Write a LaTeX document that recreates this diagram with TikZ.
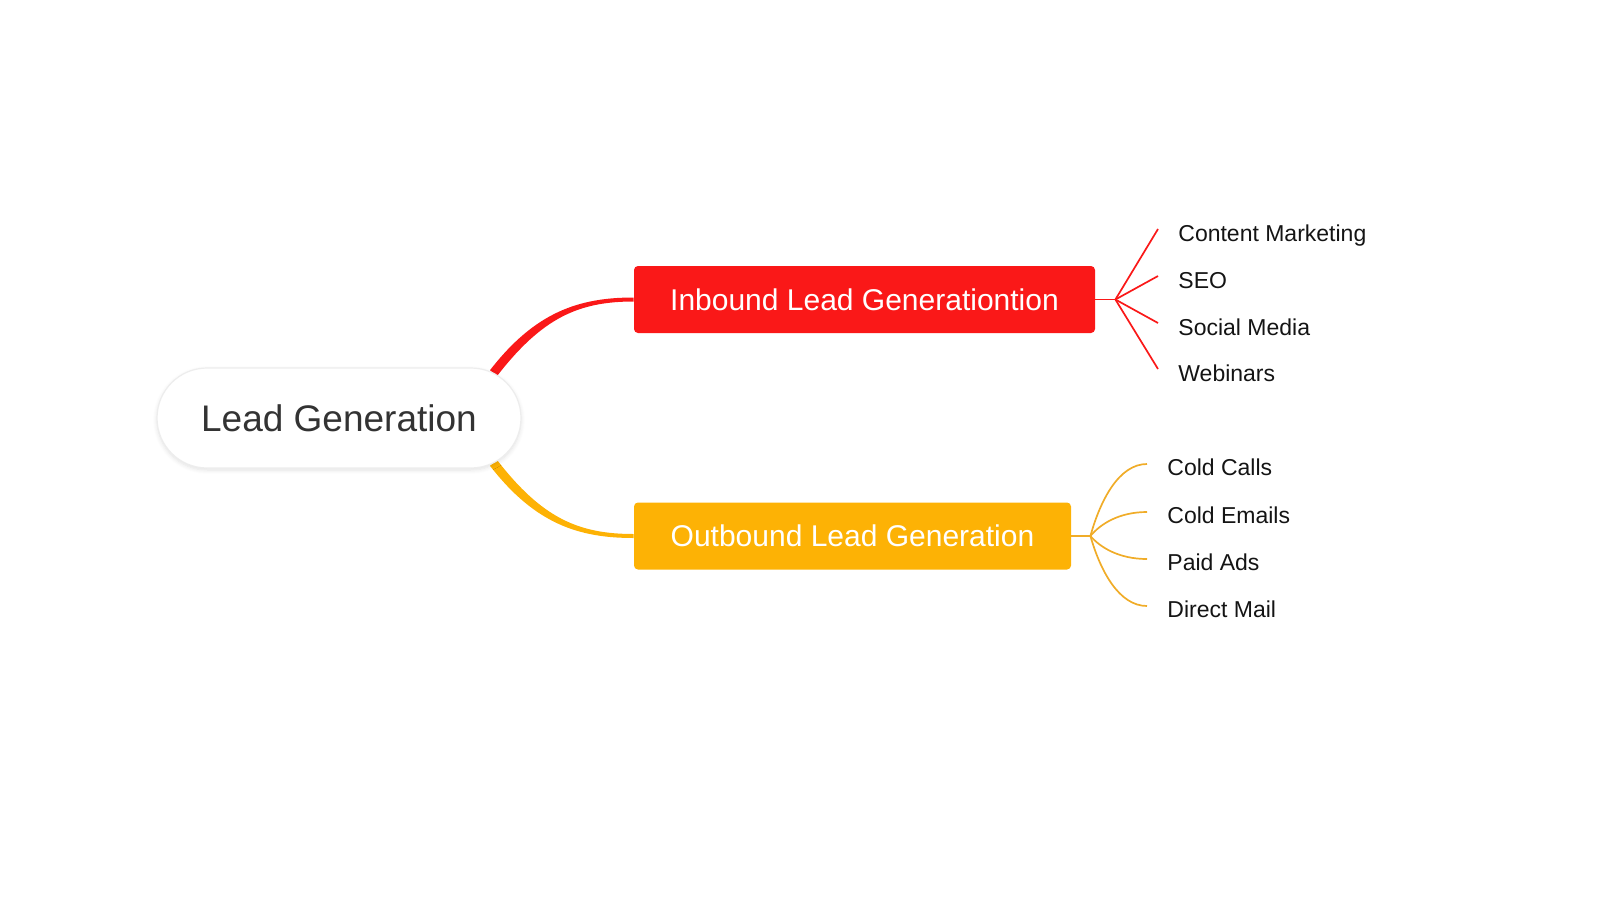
\documentclass[tikz,border=0pt]{standalone}
\usepackage{fontspec}
\setmainfont{Liberation Sans}
\usetikzlibrary{calc,shadows.blur}
\definecolor{inred}{RGB}{250,24,24}
\definecolor{outorange}{RGB}{253,178,5}
\definecolor{outthin}{RGB}{240,172,40}
\definecolor{roottext}{RGB}{51,51,51}
\definecolor{leaftext}{RGB}{20,20,20}
\pgfdeclarelayer{bg}
\pgfsetlayers{bg,main}
\begin{document}
\begin{tikzpicture}[x=0.5pt,y=-0.5pt,
  rootbox/.style={draw=black!7, line width=0.6pt, fill=white, rounded corners=25pt,
    minimum width=182pt, minimum height=50pt, inner sep=0pt,
    font=\fontsize{18.5}{22}\selectfont, text=roottext,
    blur shadow={shadow blur steps=6, shadow xshift=0pt, shadow yshift=-1pt, shadow opacity=12}},
  branchbox/.style={inner sep=0pt, rounded corners=2pt, minimum height=33.5pt,
    font=\fontsize{15}{18}\selectfont, text=white},
  leaf/.style={anchor=base west, inner sep=0pt, font=\fontsize{11.5}{14}\selectfont, text=leaftext},
  inline/.style={draw=inred, line width=0.85pt},
  outline/.style={draw=outthin, line width=0.85pt}]
\useasboundingbox (0,0) rectangle (1600,900);

% main nodes
\node[rootbox] (root) at (339,418) {Lead Generation};
\node[branchbox, fill=inred, minimum width=230.5pt] (in) at (864.5,299.5) {Inbound Lead Generationtion};
\node[branchbox, fill=outorange, minimum width=218.5pt] (out) at (852.5,536) {Outbound Lead Generation};

% leaves
\node[leaf] (cm)  at (1178,241) {Content Marketing};
\node[leaf] (seo) at (1178,288) {SEO};
\node[leaf] (sm)  at (1178,335) {Social Media};
\node[leaf] (web) at (1178,381) {Webinars};

\node[leaf] (cc)  at (1167,475) {Cold Calls};
\node[leaf] (ce)  at (1167,523) {Cold Emails};
\node[leaf] (pa)  at (1167,570) {Paid Ads};
\node[leaf] (dm)  at (1167,617) {Direct Mail};

\foreach \lf in {cm,seo,sm,web} \coordinate (\lf end) at ($(\lf.base west)+(-20,-12)$);
\foreach \lf in {cc,ce,pa,dm} \coordinate (\lf end) at ($(\lf.base west)+(-20,-11)$);

\coordinate (inhub) at ($(in.east)+(20,0)$);
\coordinate (outhub) at ($(out.east)+(19,0)$);
\coordinate (ra) at ($(root.east)+(-28,-45)$);
\coordinate (oa) at ($(root.east)+(-28,45)$);

\begin{pgfonlayer}{bg}
% tapered main connectors
\fill[inred] ($(ra)+(-3.6,-2.8)$) .. controls ($(ra)+(41.4,-60.8)$) and ($(in.west)+(-55,-2)$) .. ($(in.west)+(0,-2)$)
  -- ($(in.west)+(0,2)$) .. controls ($(in.west)+(-55,2)$) and ($(ra)+(48.6,-55.2)$) .. ($(ra)+(3.6,2.8)$) -- cycle;
\fill[outorange] ($(oa)+(-3.6,2.8)$) .. controls ($(oa)+(41.4,60.8)$) and ($(out.west)+(-55,2)$) .. ($(out.west)+(0,2)$)
  -- ($(out.west)+(0,-2)$) .. controls ($(out.west)+(-55,-2)$) and ($(oa)+(48.6,55.2)$) .. ($(oa)+(3.6,-2.8)$) -- cycle;
\end{pgfonlayer}

% inbound branches
\draw[inline] (in.east) -- (inhub);
\foreach \lf in {cm,seo,sm,web} \draw[inline] (inhub) -- (\lf end);

% outbound branches
\draw[outline] (out.east) -- (outhub);
\foreach \lf in {cc,ce,pa,dm}
  \draw[outline] let \p1=(outhub), \p2=(\lf end) in
    (\p1) .. controls ({\x1+5pt},{0.5*\y1+0.5*\y2}) and ({\x2-14pt},\y2) .. (\p2);
\end{tikzpicture}
\end{document}
